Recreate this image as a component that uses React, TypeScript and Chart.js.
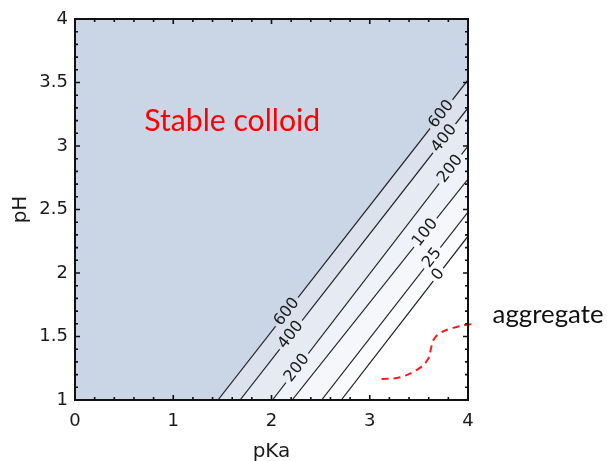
import React, { useEffect, useRef } from 'react';
import { Chart, registerables } from 'chart.js';

Chart.register(...registerables);

// ---- Data ----
const contourLevels = ['600', '400', '200', '100', '25', '0'];
// each contour is a straight line from (pKa, pH=1) to (pKa=4, pH)
const contourStartPKa = [1.455, 1.68, 2.01, 2.21, 2.51, 2.71];
const contourEndPH = [3.52, 3.3, 3.0, 2.74, 2.48, 2.29];
const bandColors = ['#cad5e5', '#dbe2ee', '#e6ebf3', '#eff2f8', '#f5f7fb', '#fafbfd'];
const contourLabelPKa = [[2.156, 3.728], [2.197, 3.758], [2.26, 3.82], [3.565], [3.636], [3.697]];
const aggregatePKa = [3.12, 3.31, 3.51, 3.6, 3.62, 3.65, 3.72, 3.85, 3.99, 4.085];
const aggregatePH = [1.166, 1.179, 1.253, 1.331, 1.395, 1.474, 1.529, 1.568, 1.592, 1.6];
const xTickValues = [0, 1, 2, 3, 4];
const yTickValues = [1, 1.5, 2, 2.5, 3, 3.5, 4];

const X_MIN = 0, X_MAX = 4, Y_MIN = 1, Y_MAX = 4;
const LABEL_FONT = '16px "DejaVu Sans"';

function labelGeom(chart: any, i: number) {
  const xs = chart.scales.x, ys = chart.scales.y;
  const x1 = xs.getPixelForValue(contourStartPKa[i]);
  const y1 = ys.getPixelForValue(Y_MIN);
  const x2 = xs.getPixelForValue(X_MAX);
  const y2 = ys.getPixelForValue(contourEndPH[i]);
  const theta = Math.atan2(y2 - y1, x2 - x1);
  const ctx = chart.ctx;
  ctx.save();
  ctx.font = LABEL_FONT;
  const w = ctx.measureText(contourLevels[i]).width;
  ctx.restore();
  return contourLabelPKa[i].map((p) => {
    const t = (p - contourStartPKa[i]) / (X_MAX - contourStartPKa[i]);
    const ph = Y_MIN + t * (contourEndPH[i] - Y_MIN);
    return { cx: xs.getPixelForValue(p), cy: ys.getPixelForValue(ph), theta, hw: w / 2 + 3, hh: 9 };
  });
}

const contourPlugin = {
  id: 'contourDecor',
  beforeDatasetDraw(chart: any, args: any) {
    const ds = chart.data.datasets[args.index];
    if (ds.contourIndex === undefined) return;
    const ctx = chart.ctx;
    const gaps = labelGeom(chart, ds.contourIndex);
    ctx.save();
    ctx.beginPath();
    ctx.rect(0, 0, chart.width, chart.height);
    for (const g of gaps) {
      const ux = Math.cos(g.theta), uy = Math.sin(g.theta);
      const vx = -uy, vy = ux;
      const pts = [
        [g.cx - ux * g.hw - vx * g.hh, g.cy - uy * g.hw - vy * g.hh],
        [g.cx + ux * g.hw - vx * g.hh, g.cy + uy * g.hw - vy * g.hh],
        [g.cx + ux * g.hw + vx * g.hh, g.cy + uy * g.hw + vy * g.hh],
        [g.cx - ux * g.hw + vx * g.hh, g.cy - uy * g.hw + vy * g.hh],
      ];
      ctx.moveTo(pts[0][0], pts[0][1]);
      for (let k = 1; k < 4; k++) ctx.lineTo(pts[k][0], pts[k][1]);
      ctx.closePath();
    }
    ctx.clip('evenodd');
  },
  afterDatasetDraw(chart: any, args: any) {
    const ds = chart.data.datasets[args.index];
    if (ds.contourIndex === undefined) return;
    chart.ctx.restore();
  },
  afterDatasetsDraw(chart: any) {
    const ctx = chart.ctx;
    const xs = chart.scales.x, ys = chart.scales.y;
    const { left, right, top, bottom } = chart.chartArea;

    // contour labels
    for (let i = 0; i < contourLevels.length; i++) {
      for (const g of labelGeom(chart, i)) {
        ctx.save();
        ctx.translate(g.cx, g.cy);
        ctx.rotate(g.theta);
        ctx.font = LABEL_FONT;
        ctx.fillStyle = '#1a1a1a';
        ctx.textAlign = 'center';
        ctx.textBaseline = 'middle';
        ctx.fillText(contourLevels[i], 0, 0);
        ctx.restore();
      }
    }

    // frame + inward ticks on all sides
    ctx.save();
    ctx.strokeStyle = '#111';
    ctx.lineWidth = 2;
    ctx.strokeRect(left, top, right - left, bottom - top);
    ctx.lineWidth = 1.6;
    ctx.beginPath();
    for (let k = 0; k <= 20; k++) {
      const v = X_MIN + k * 0.2;
      const px = xs.getPixelForValue(v);
      const len = k % 5 === 0 ? 5 : 3;
      ctx.moveTo(px, bottom); ctx.lineTo(px, bottom - len);
      ctx.moveTo(px, top); ctx.lineTo(px, top + len);
    }
    for (let k = 0; k <= 30; k++) {
      const v = Y_MIN + k * 0.1;
      const py = ys.getPixelForValue(v);
      const len = k % 5 === 0 ? 5 : 3;
      ctx.moveTo(left, py); ctx.lineTo(left + len, py);
      ctx.moveTo(right, py); ctx.lineTo(right - len, py);
    }
    ctx.stroke();
    ctx.restore();

    // annotations
    ctx.save();
    ctx.textAlign = 'center';
    ctx.textBaseline = 'alphabetic';
    ctx.font = '28px Lato';
    let w = ctx.measureText('Stable colloid').width;
    let size = 28 * 176 / w;
    ctx.font = `${size}px Lato`;
    ctx.fillStyle = '#ff0000';
    ctx.fillText('Stable colloid', xs.getPixelForValue(1.6), ys.getPixelForValue(3.115));
    ctx.font = '22px Lato';
    w = ctx.measureText('aggregate').width;
    size = 22 * 111 / w;
    ctx.font = `${size}px Lato`;
    ctx.textAlign = 'left';
    ctx.fillStyle = '#111';
    ctx.fillText('aggregate', xs.getPixelForValue(4.25), ys.getPixelForValue(1.608));
    ctx.restore();
  },
};

export default function App() {
  const ref = useRef<HTMLCanvasElement | null>(null);
  useEffect(() => {
    if (!ref.current) return;
    const datasets: any[] = [];
    contourLevels.forEach((lvl, i) => {
      datasets.push({
        label: 'band ' + lvl,
        data: [
          { x: X_MIN, y: Y_MIN },
          { x: contourStartPKa[i], y: Y_MIN },
          { x: X_MAX, y: contourEndPH[i] },
        ],
        fill: 'end',
        backgroundColor: bandColors[i],
        borderWidth: 0,
        pointRadius: 0,
        tension: 0,
        order: 10 + i,
      });
    });
    contourLevels.forEach((lvl, i) => {
      datasets.push({
        label: 'contour ' + lvl,
        contourIndex: i,
        data: [
          { x: contourStartPKa[i], y: Y_MIN },
          { x: X_MAX, y: contourEndPH[i] },
        ],
        fill: false,
        borderColor: '#222',
        borderWidth: 1.2,
        pointRadius: 0,
        tension: 0,
        order: 1,
      });
    });
    datasets.push({
      label: 'aggregate',
      data: aggregatePKa.map((x, k) => ({ x, y: aggregatePH[k] })),
      fill: false,
      borderColor: '#ff1a1a',
      borderWidth: 2,
      borderDash: [7, 5],
      pointRadius: 0,
      tension: 0.4,
      clip: false,
      order: 0,
    });

    const fmt = (v: any) => `${Number(v)}`;
    const chart = new Chart(ref.current, {
      type: 'line',
      data: { datasets },
      plugins: [contourPlugin],
      options: {
        responsive: false,
        animation: false,
        events: [],
        layout: { padding: { left: 0, right: 139, top: 19, bottom: 0 } },
        plugins: { legend: { display: false }, tooltip: { enabled: false } },
        scales: {
          x: {
            type: 'linear',
            min: X_MIN,
            max: X_MAX,
            afterBuildTicks: (s: any) => { s.ticks = xTickValues.map((v) => ({ value: v })); },
            afterFit: (s: any) => { s.height = 61; },
            grid: { display: false, drawTicks: false },
            border: { display: false },
            ticks: { padding: 11, color: '#1a1a1a', callback: fmt, font: { family: '"DejaVu Sans"', size: 18 }, maxRotation: 0 },
            title: { display: true, text: 'pKa', color: '#1a1a1a', font: { family: '"DejaVu Sans"', size: 20 }, padding: { top: 0, bottom: -3 } },
          },
          y: {
            type: 'linear',
            min: Y_MIN,
            max: Y_MAX,
            afterBuildTicks: (s: any) => { s.ticks = yTickValues.map((v) => ({ value: v })); },
            afterFit: (s: any) => { s.width = 75; },
            grid: { display: false, drawTicks: false },
            border: { display: false },
            ticks: { padding: 7, color: '#1a1a1a', callback: fmt, font: { family: '"DejaVu Sans"', size: 18 } },
            title: { display: true, text: 'pH', color: '#1a1a1a', font: { family: '"DejaVu Sans"', size: 20 }, padding: 9 },
          },
        },
      } as any,
    });
    return () => chart.destroy();
  }, []);
  return (
    <canvas
      ref={ref}
      width={607}
      height={461}
      style={{ position: 'absolute', left: 0, top: 0, width: 607, height: 461 }}
    />
  );
}
